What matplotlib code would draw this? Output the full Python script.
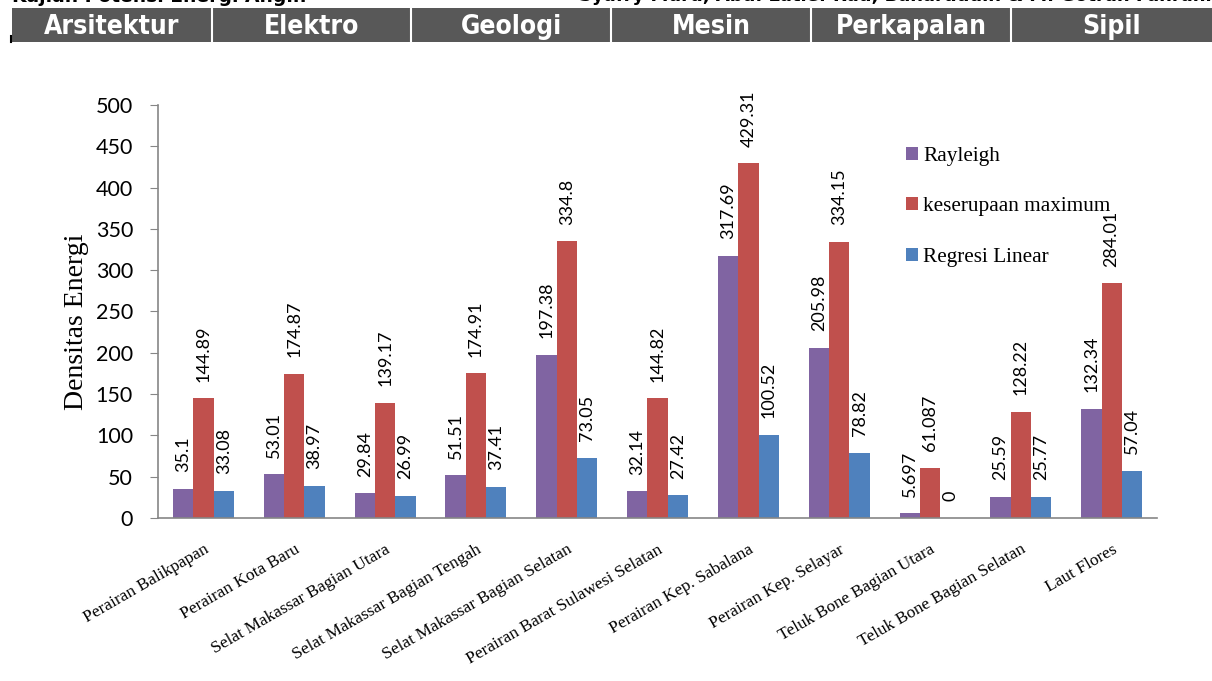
import matplotlib
matplotlib.use('Agg')
import matplotlib.pyplot as plt
from matplotlib import font_manager as fm
import numpy as np

PURPLE = '#8064A2'
RED = '#C0504D'
BLUE = '#4F81BD'
AXIS = '#868686'
HEADER = '#585858'

locations = [
    'Perairan Balikpapan', 'Perairan Kota Baru', 'Selat Makassar Bagian Utara',
    'Selat Makassar Bagian Tengah', 'Selat Makassar Bagian Selatan',
    'Perairan Barat Sulawesi Selatan', 'Perairan Kep. Sabalana',
    'Perairan Kep. Selayar', 'Teluk Bone Bagian Utara',
    'Teluk Bone Bagian Selatan', 'Laut Flores',
]
rayleigh = [35.1, 53.01, 29.84, 51.51, 197.38, 32.14, 317.69, 205.98, 5.697, 25.59, 132.34]
maks = [144.89, 174.87, 139.17, 174.91, 334.8, 144.82, 429.31, 334.15, 61.087, 128.22, 284.01]
regresi = [33.08, 38.97, 26.99, 37.41, 73.05, 27.42, 100.52, 78.82, 0, 25.77, 57.04]
tabs = ['Arsitektur', 'Elektro', 'Geologi', 'Mesin', 'Perkapalan', 'Sipil']


def narrow_bold():
    # pick a bold condensed/narrow face for the header tabs if one is installed
    for f in fm.fontManager.ttflist:
        tag = (f.name + ' ' + str(f.stretch) + ' ' + f.fname).lower()
        if ('condensed' in tag or 'narrow' in tag) and f.weight in ('bold', 700, 'heavy', 800, 900):
            return fm.FontProperties(fname=f.fname), True
    return fm.FontProperties(family='DejaVu Sans', weight='bold'), False


fig = plt.figure(figsize=(12.12, 6.81), dpi=100)
fig.patch.set_facecolor('white')

# --- journal header strip ---
hdr = fig.add_axes([0, 0, 1, 1])
hdr.set_xlim(0, 1212); hdr.set_ylim(681, 0)
hdr.axis('off')
hdr.add_patch(plt.Rectangle((12, 8), 1200, 34, facecolor=HEADER, edgecolor='none'))
edges = [12, 212, 411, 611, 811, 1011, 1212]
for e in edges[1:-1]:
    hdr.plot([e, e], [8, 42], color='white', lw=1.5)
tab_font, is_narrow = narrow_bold()
tab_font.set_size(19 if is_narrow else 15)
for i, t in enumerate(tabs):
    hdr.text((edges[i] + edges[i + 1]) / 2, 26.5, t, ha='center', va='center',
             color='white', fontproperties=tab_font)
hdr.plot([11, 11], [36, 42], color='black', lw=1.5)
hdr.text(12, -4, 'Kajian Potensi Energi Angin', ha='left', va='center',
         fontsize=13.5, fontweight='bold', color='black')
hdr.text(1212, -4, 'Syafry Murd, Abd. Latief Rau, Baharuddin & M. Gotran Fahrani', ha='right',
         va='center', fontsize=13, fontweight='bold', color='black')

# --- bar chart ---
ax = fig.add_axes([0.1304, 0.2394, 0.8243, 0.6065])
x = np.arange(len(locations))
w = 0.224
series = [
    (rayleigh, PURPLE, 'Rayleigh', -w),
    (maks, RED, 'keserupaan maximum', 0),
    (regresi, BLUE, 'Regresi Linear', w),
]
for vals, col, name, off in series:
    bars = ax.bar(x + off, vals, w, color=col, label=name, linewidth=0)
    for b, v in zip(bars, vals):
        ax.annotate(f'{v:g}', (b.get_x() + b.get_width() / 2, v), xytext=(0, 12),
                    textcoords='offset points', rotation=90, ha='center', va='bottom',
                    fontsize=13, family='Lato', color='black')

ax.set_xlim(-0.5, len(locations) - 0.5)
ax.set_ylim(0, 500)
ax.set_yticks(np.arange(0, 501, 50))
ax.tick_params(axis='y', direction='out', length=6, color=AXIS, labelsize=15.5, pad=12)
for lbl in ax.get_yticklabels():
    lbl.set_family('Lato')
ax.set_xticks(x)
ax.set_xticklabels(locations, rotation=30, ha='right', rotation_mode='anchor',
                   family='Liberation Serif', fontsize=12.5)
ax.tick_params(axis='x', length=0, pad=17)
for s in ['top', 'right']:
    ax.spines[s].set_visible(False)
for s in ['left', 'bottom']:
    ax.spines[s].set_color(AXIS)
    ax.spines[s].set_linewidth(1.2)
ax.set_ylabel('Densitas Energi', family='Liberation Serif', fontsize=20)
ax.yaxis.set_label_coords(-0.069, 0.475)

ax.legend(loc='upper left', bbox_to_anchor=(0.730, 0.945), frameon=False,
          prop={'family': 'Liberation Serif', 'size': 15.3},
          handlelength=0.55, handleheight=0.55, handletextpad=0.25, labelspacing=1.48)

fig.savefig('out.png', dpi=100, facecolor='white')
plt.close(fig)
